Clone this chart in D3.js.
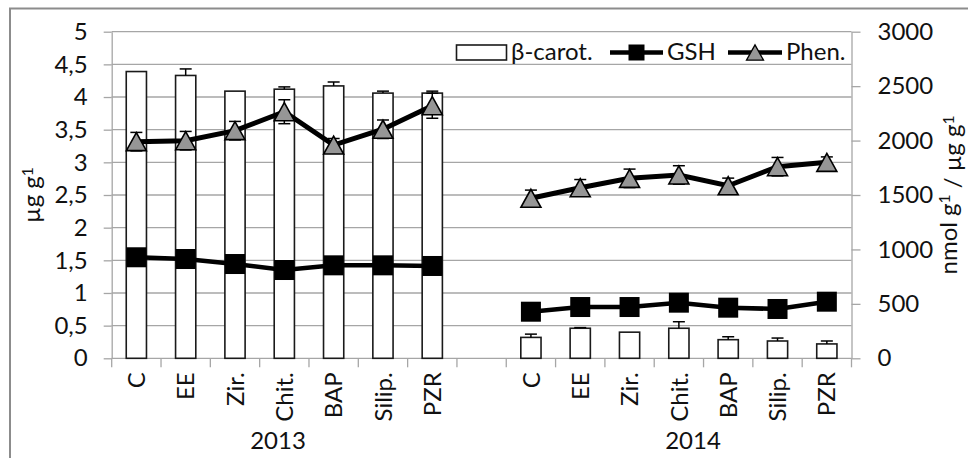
<!DOCTYPE html>
<html><head><meta charset="utf-8">
<script src="https://cdn.jsdelivr.net/npm/d3@7"></script>
<style>
html,body{margin:0;padding:0;background:#fff;}
svg{display:block;font-family:Lato,"Open Sans",sans-serif;}
</style></head>
<body><svg id="chart" width="968" height="458"></svg>
<script>
// ---- data ----
const categories = ["C","EE","Zir.","Chit.","BAP","Silip.","PZR"];
const years = ["2013","2014"];
const betaCarot2013 = [4.39, 4.33, 4.09, 4.12, 4.17, 4.06, 4.06];
const betaCarotErr2013 = [0, 0.10, 0, 0.035, 0.06, 0.03, 0.03];
const betaCarot2014 = [0.32, 0.46, 0.40, 0.46, 0.285, 0.265, 0.22];
const betaCarotErr2014 = [0.05, 0.01, 0, 0.10, 0.045, 0.045, 0.045];
const gsh2013 = [928, 912, 866, 811, 854, 854, 848];
const gsh2014 = [428, 471, 471, 511, 465, 453, 520];
const phen2013 = [1990, 1999, 2091, 2265, 1959, 2104, 2320];
const phenErr2013 = [85, 85, 85, 110, 60, 85, 115];
const phen2014 = [1470, 1567, 1653, 1684, 1585, 1760, 1800];
const phenErr2014 = [75, 75, 85, 85, 70, 85, 50];
const leftTicks = [0,0.5,1,1.5,2,2.5,3,3.5,4,4.5,5];
const rightTicks = [0,500,1000,1500,2000,2500,3000];
const seriesNames = ["β-carot.","GSH","Phen."];
const leftTitle = "µg g";
const rightTitle1 = "nmol g";
const rightTitle2 = " / µg g";

// ---- layout ----
const svg = d3.select("#chart");
const L = 111.7, R = 851.5, T = 31.7, B = 358.3;
const gridCol = "#a6a6a6";
const fs = 24;

const slots = [];
years.forEach((yr, yi) => {
  categories.forEach(c => slots.push(yr + "|" + c));
  if (yi === 0) slots.push("gap");
});
const x = d3.scaleBand().domain(slots).range([L, R]).padding(0);
const yL = d3.scaleLinear().domain([0,5]).range([B, T]);
const yR = d3.scaleLinear().domain([0,3000]).range([B, T]);

// bbox-centred triangle (Excel style)
const triType = w => ({draw(ctx){ const h = w*0.9; ctx.moveTo(0,-h/2); ctx.lineTo(w/2,h/2); ctx.lineTo(-w/2,h/2); ctx.closePath(); }});

// outer border
svg.append("rect").attr("x",10).attr("y",8.5).attr("width",975).attr("height",470)
  .attr("fill","none").attr("stroke","#8c8c8c").attr("stroke-width",2);

// gridlines
svg.append("g").selectAll("line").data(leftTicks.slice(1)).join("line")
  .attr("x1",L).attr("x2",R).attr("y1",d=>yL(d)).attr("y2",d=>yL(d))
  .attr("stroke",gridCol).attr("stroke-width",1.3);

const loc = d3.formatLocale({decimal:",",thousands:".",grouping:[3],currency:["",""]});
const fmtL = v => loc.format("~g")(v);

const gL = svg.append("g").attr("transform",`translate(${L},0)`)
  .call(d3.axisLeft(yL).tickValues(leftTicks).tickFormat(fmtL).tickSize(8).tickPadding(16).tickSizeOuter(0));
const gR = svg.append("g").attr("transform",`translate(${R},0)`)
  .call(d3.axisRight(yR).tickValues(rightTicks).tickFormat(d3.format("d")).tickSize(9).tickPadding(17).tickSizeOuter(0));
[gL,gR].forEach(g=>{
  g.select(".domain").attr("stroke",gridCol).attr("stroke-width",1.3);
  g.selectAll(".tick line").attr("stroke",gridCol).attr("stroke-width",1.3);
  g.selectAll(".tick text").attr("font-size",fs).attr("fill","#111").attr("font-family","Lato");
});

// x axis
const gX = svg.append("g");
gX.append("line").attr("x1",L).attr("x2",R).attr("y1",B).attr("y2",B)
  .attr("stroke",gridCol).attr("stroke-width",1.3);
const bounds = slots.map(s=>x(s)).concat([x(slots[slots.length-1])+x.bandwidth()]);
gX.selectAll("line.tk").data(bounds).join("line").attr("class","tk")
  .attr("x1",d=>d).attr("x2",d=>d).attr("y1",B).attr("y2",B+9)
  .attr("stroke",gridCol).attr("stroke-width",1.3);
gX.selectAll("text.cat").data(slots.filter(s=>s!=="gap")).join("text").attr("class","cat")
  .attr("transform",d=>`translate(${x(d)+x.bandwidth()/2},${B+14}) rotate(-90)`)
  .attr("text-anchor","end").attr("dy","0.36em")
  .attr("font-size",fs).attr("fill","#111")
  .text(d=>d.split("|")[1]);
const yearCenters = [278, 693];
years.forEach((yr,i)=>{
  gX.append("text").attr("x",yearCenters[i]).attr("y",449).attr("text-anchor","middle")
    .attr("font-size",fs).attr("fill","#111").text(yr);
});

// bars
const barData = [];
years.forEach((yr,yi)=>{
  const vals = yi===0?betaCarot2013:betaCarot2014;
  const errs = yi===0?betaCarotErr2013:betaCarotErr2014;
  categories.forEach((c,ci)=>barData.push({key:yr+"|"+c,v:vals[ci],e:errs[ci]}));
});
const bw = x.bandwidth()*0.41;
svg.append("g").selectAll("rect").data(barData).join("rect")
  .attr("x",d=>x(d.key)+x.bandwidth()/2-bw/2).attr("width",bw)
  .attr("y",d=>yL(d.v)).attr("height",d=>B-yL(d.v))
  .attr("fill","#fff").attr("stroke","#1a1a1a").attr("stroke-width",1.6);
const ebG = svg.append("g").attr("stroke","#000").attr("stroke-width",1.5);
barData.filter(d=>d.e>0).forEach(d=>{
  const cx = x(d.key)+x.bandwidth()/2;
  ebG.append("line").attr("x1",cx).attr("x2",cx).attr("y1",yL(d.v)).attr("y2",yL(d.v+d.e));
  ebG.append("line").attr("x1",cx-6).attr("x2",cx+6).attr("y1",yL(d.v+d.e)).attr("y2",yL(d.v+d.e));
});

// lines
const line = d3.line().x(d=>x(d.key)+x.bandwidth()/2).y(d=>yR(d.v));
function seriesData(a13,a14,e13,e14){
  return years.map((yr,yi)=>categories.map((c,ci)=>({key:yr+"|"+c,v:(yi===0?a13:a14)[ci],e:e13?(yi===0?e13:e14)[ci]:0})));
}
const gshD = seriesData(gsh2013,gsh2014);
const phenD = seriesData(phen2013,phen2014,phenErr2013,phenErr2014);

gshD.forEach(seg=>{
  svg.append("path").attr("d",line(seg)).attr("fill","none").attr("stroke","#000").attr("stroke-width",4.5);
  svg.append("g").selectAll("rect").data(seg).join("rect")
    .attr("x",d=>x(d.key)+x.bandwidth()/2-10).attr("y",d=>yR(d.v)-10)
    .attr("width",20).attr("height",20).attr("fill","#000");
});

const tri = d3.symbol().type(triType(20));
phenD.forEach(seg=>{
  const eg = svg.append("g").attr("stroke","#000").attr("stroke-width",1.5);
  seg.forEach(d=>{
    const cx = x(d.key)+x.bandwidth()/2;
    eg.append("line").attr("x1",cx).attr("x2",cx).attr("y1",yR(d.v-d.e)).attr("y2",yR(d.v+d.e));
    eg.append("line").attr("x1",cx-6).attr("x2",cx+6).attr("y1",yR(d.v+d.e)).attr("y2",yR(d.v+d.e));
    eg.append("line").attr("x1",cx-6).attr("x2",cx+6).attr("y1",yR(d.v-d.e)).attr("y2",yR(d.v-d.e));
  });
  svg.append("path").attr("d",line(seg)).attr("fill","none").attr("stroke","#000").attr("stroke-width",5);
  svg.append("g").selectAll("path").data(seg).join("path")
    .attr("d",tri).attr("transform",d=>`translate(${x(d.key)+x.bandwidth()/2},${yR(d.v)})`)
    .attr("fill","#969696").attr("stroke","#000").attr("stroke-width",1.6);
});

// legend
const lg = svg.append("g");
lg.append("rect").attr("x",456.5).attr("y",45).attr("width",50).attr("height",15)
  .attr("fill","#fff").attr("stroke","#1a1a1a").attr("stroke-width",1.6);
lg.append("text").attr("x",511).attr("y",60).attr("font-size",fs).attr("fill","#111").text(seriesNames[0]);
lg.append("line").attr("x1",610).attr("x2",663).attr("y1",52.5).attr("y2",52.5).attr("stroke","#000").attr("stroke-width",4.5);
lg.append("rect").attr("x",628.5).attr("y",44.5).attr("width",16).attr("height",16).attr("fill","#000");
lg.append("text").attr("x",667).attr("y",60).attr("font-size",fs).attr("fill","#111").text(seriesNames[1]);
lg.append("line").attr("x1",728).attr("x2",782).attr("y1",52.5).attr("y2",52.5).attr("stroke","#000").attr("stroke-width",4.5);
lg.append("path").attr("d",d3.symbol().type(triType(17))).attr("transform","translate(755,52.5)")
  .attr("fill","#969696").attr("stroke","#000").attr("stroke-width",1.3);
lg.append("text").attr("x",786).attr("y",60).attr("font-size",fs).attr("fill","#111").text(seriesNames[2]);

// axis titles
const tl = svg.append("text").attr("transform",`translate(40,${(T+B)/2}) rotate(-90)`)
  .attr("text-anchor","middle").attr("font-size",fs).attr("fill","#111");
tl.append("tspan").text(leftTitle);
tl.append("tspan").attr("dy","-0.45em").attr("font-size",fs*0.65).text("1");

const tr = svg.append("text").attr("transform",`translate(957,${(T+B)/2}) rotate(-90)`)
  .attr("text-anchor","middle").attr("font-size",fs).attr("fill","#111");
tr.append("tspan").text(rightTitle1);
tr.append("tspan").attr("dy","-0.45em").attr("font-size",fs*0.65).text("1");
tr.append("tspan").attr("dy","0.45em").text(rightTitle2);
tr.append("tspan").attr("dy","-0.45em").attr("font-size",fs*0.65).text("1");
</script></body></html>
